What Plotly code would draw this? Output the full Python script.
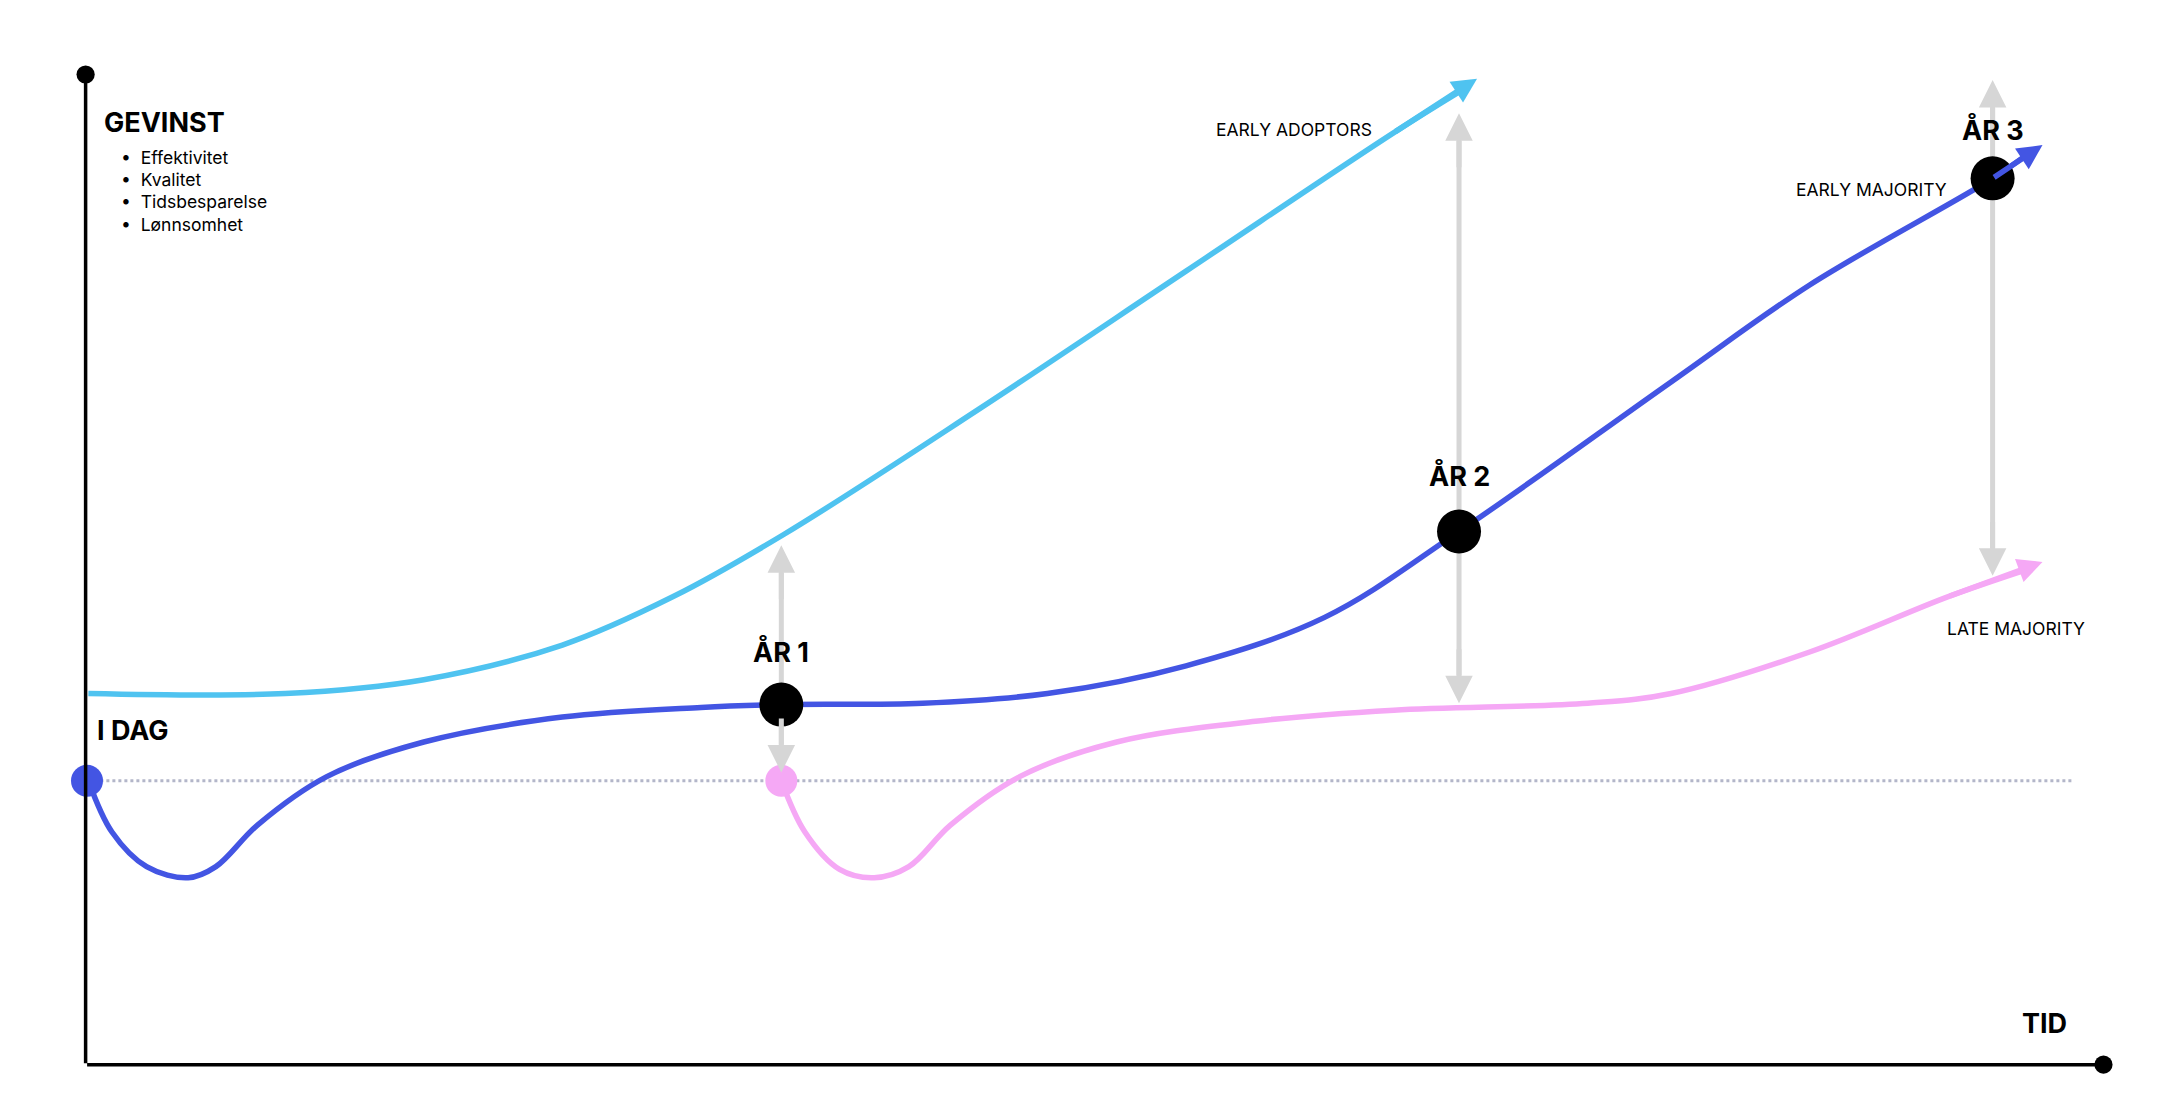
import plotly.graph_objects as go

# canvas coordinates (reference image units, 1560 x 808, y grows downward)
adopt_x = [58, 200, 300, 400, 480, 560, 700, 850, 1000, 1048]
adopt_y = [495, 495, 485, 460, 425, 380, 290, 190, 90, 60]
major_x = [58, 75, 100, 130, 150, 180, 230, 300, 400, 500, 558, 660, 750, 850, 950, 1047, 1200, 1300, 1432, 1458]
major_y = [558, 595, 620, 628, 620, 590, 555, 530, 512, 505, 503, 502, 495, 475, 440, 378, 270, 200, 123, 105]
late_x = [558, 575, 600, 625, 650, 680, 730, 800, 900, 1000, 1140, 1200, 1300, 1400, 1455]
late_y = [558, 595, 622, 628, 620, 590, 555, 530, 515, 507, 502, 495, 465, 425, 406]

milestones_x = [558, 1047, 1432]
milestones_y = [503, 378, 123]
milestone_labels = ["ÅR 1", "ÅR 2", "ÅR 3"]
gap_x = [558, 1047, 1432]
gap_top = [388, 76, 52]
gap_bottom = [552, 502, 410]

bullets = ["Effektivitet", "Kvalitet", "Tidsbesparelse", "Lønnsomhet"]

BLUE_L = "#4fc3f0"
BLUE_D = "#4355e3"
PINK = "#f5a8f5"
GREY = "#d6d6d6"
FONT = "Inter"

fig = go.Figure()
fig.add_trace(go.Scatter(x=[58, 1490], y=[558, 558], mode="lines",
                         line=dict(color="#b3b6c9", width=3, dash="dot")))
fig.add_trace(go.Scatter(x=adopt_x, y=adopt_y, mode="lines", line_shape="spline",
                         line=dict(color=BLUE_L, width=5.5)))
fig.add_trace(go.Scatter(x=major_x, y=major_y, mode="lines", line_shape="spline",
                         line=dict(color=BLUE_D, width=5.5)))
fig.add_trace(go.Scatter(x=late_x, y=late_y, mode="lines", line_shape="spline",
                         line=dict(color=PINK, width=5.5)))

anns = []
# grey double arrows
for x, t, b in zip(gap_x, gap_top, gap_bottom):
    for y0, y1 in [(t + 40, t), (b - 40, b)]:
        anns.append(dict(x=x, y=y1, ax=x, ay=y0, xref="x", yref="y", axref="x", ayref="y",
                         showarrow=True, arrowhead=2, arrowsize=1.1, arrowwidth=5, arrowcolor=GREY, text=""))
    fig.add_shape(type="line", x0=x, x1=x, y0=t + 20, y1=b - 20, line=dict(color=GREY, width=5), layer="below")

# curve arrowheads
for xs, ys, c, tip in [(adopt_x, adopt_y, BLUE_L, (1060, 51)),
                       (major_x, major_y, BLUE_D, (1468, 99)),
                       (late_x, late_y, PINK, (1468, 400))]:
    anns.append(dict(x=tip[0], y=tip[1], ax=xs[-2], ay=ys[-2], xref="x", yref="y", axref="x", ayref="y",
                     showarrow=True, arrowhead=2, arrowsize=0.9, arrowwidth=5.5, arrowcolor=c, text=""))

# axes
anns.append(dict(x=56, y=48, ax=56, ay=763, xref="x", yref="y", axref="x", ayref="y",
                 showarrow=True, arrowhead=6, arrowsize=1.3, arrowwidth=3.5, arrowcolor="black", text=""))
anns.append(dict(x=1512, y=763, ax=56, ay=763, xref="x", yref="y", axref="x", ayref="y",
                 showarrow=True, arrowhead=6, arrowsize=1.3, arrowwidth=3.5, arrowcolor="black", text=""))

fig.add_trace(go.Scatter(x=milestones_x, y=milestones_y, mode="markers",
                         marker=dict(color="black", size=44)))
fig.add_trace(go.Scatter(x=[57], y=[558], mode="markers", marker=dict(color=BLUE_D, size=32)))
fig.add_trace(go.Scatter(x=[558], y=[558], mode="markers", marker=dict(color=PINK, size=32)))


def txt(x, y, s, size, bold=False, xanchor="left"):
    anns.append(dict(x=x, y=y, text=f"<b>{s}</b>" if bold else s, showarrow=False, xref="x", yref="y",
                     xanchor=xanchor, yanchor="middle", font=dict(family=FONT, size=size, color="black")))


txt(68, 83, "GEVINST", 27, True)
for i, b in enumerate(bullets):
    txt(80, 108 + i * 16, "•  " + b, 17.5)
for x, y, s in zip(milestones_x, [465, 338, 88], milestone_labels):
    txt(x, y, s, 27, True, "center")
txt(63, 522, "I DAG", 27, True)
txt(1452, 733, "TID", 27, True)
txt(870, 88, "EARLY ADOPTORS", 17.5)
txt(1289, 131, "EARLY MAJORITY", 17.5)
txt(1398, 448, "LATE MAJORITY", 17.5)

fig.update_layout(width=2162, height=1119, margin=dict(l=0, r=0, t=0, b=0),
                  plot_bgcolor="white", paper_bgcolor="white", showlegend=False,
                  annotations=anns,
                  xaxis=dict(range=[0, 1560], visible=False, fixedrange=True),
                  yaxis=dict(range=[808, 0], visible=False, fixedrange=True))
fig.write_html("out.html")
